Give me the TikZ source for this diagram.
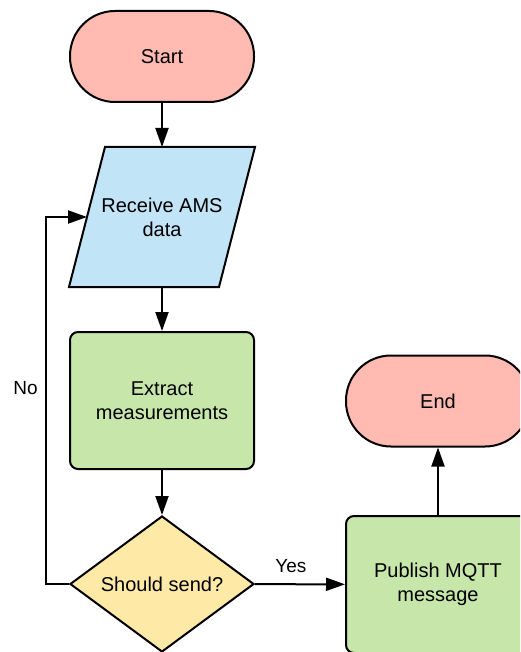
\documentclass[tikz,border=0pt]{standalone}
\usepackage{fontspec}
\setmainfont{Liberation Sans}
\usetikzlibrary{shapes.geometric,arrows.meta,backgrounds}
\definecolor{termred}{HTML}{FFBBB1}
\definecolor{ioblue}{HTML}{C1E4F7}
\definecolor{procgreen}{HTML}{C7E6AA}
\definecolor{decyellow}{HTML}{FFE9A6}
\tikzset{
  base/.style={draw, line width=2pt, font=\fontsize{20}{24}\selectfont, align=center},
  term/.style={base, fill=termred, rectangle, rounded corners=45pt, minimum width=184pt, minimum height=91pt},
  io/.style={base, draw=none, rectangle, minimum width=148pt, minimum height=138pt},
  proc/.style={base, fill=procgreen, rectangle, rounded corners=8pt, minimum width=184pt, minimum height=137pt},
  decision/.style={base, fill=decyellow, diamond, aspect=1.35, inner sep=0pt, minimum width=184pt, minimum height=136pt},
  flow/.style={line width=2pt, -{Triangle[length=19pt,width=13pt]}},
  lbl/.style={font=\fontsize{19}{23}\selectfont},
}
\begin{document}
\begin{tikzpicture}[x=1pt,y=-1pt]
\useasboundingbox (0,0) rectangle (520,652);
\clip (0,0) rectangle (520,652);
% Knoten:
\node [term] (start) at (162,56.5) {Start};
\node [io] (recv) at (162,217) {Receive AMS\\data};
\node [proc] (extract) at (162,400.5) {Extract\\measurements};
\node [decision] (send) at (162,584) {Should send?};
\node [proc] (publish) at (438,584.5) {Publish MQTT\\message};
\node [term] (end) at (438,401) {End};
% Parallelogramm hinter dem Text:
\begin{scope}[on background layer]
\draw [line width=2pt, fill=ioblue] ([xshift=18pt]recv.north west) -- ([xshift=18pt]recv.north east)
  -- ([xshift=-18pt]recv.south east) -- ([xshift=-18pt]recv.south west) -- cycle;
\end{scope}
% Pfeile:
\draw [flow] (start) -- (recv);
\draw [flow] (recv) -- (extract);
\draw [flow] (extract) -- (send);
\draw [flow] (send) -- node[lbl, above, pos=0.4, yshift=7pt]{Yes} (publish);
\draw [flow] (publish) -- (end);
% Schleife zurueck:
\draw [flow] (send.west) -- ++(-23,0) |- node[lbl, left, pos=0.267, xshift=-4pt]{No} (recv.west);
\end{tikzpicture}
\end{document}
